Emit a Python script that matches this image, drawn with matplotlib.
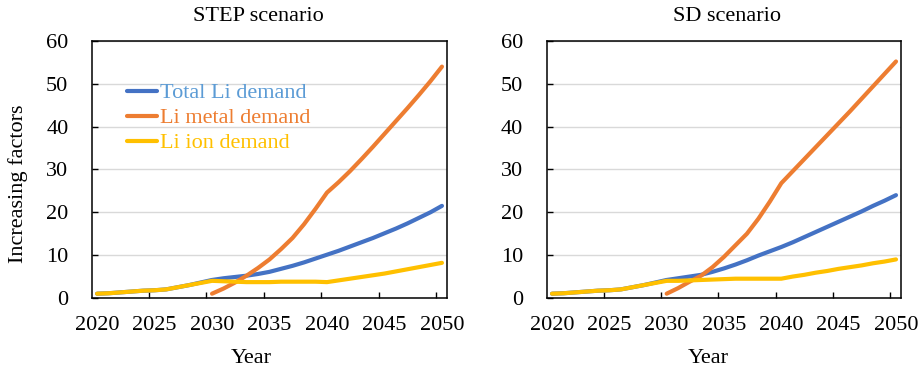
import numpy as np
import matplotlib
matplotlib.use('Agg')
import matplotlib.pyplot as plt
from matplotlib.ticker import MultipleLocator

plt.rcParams['font.family'] = ['Liberation Serif', 'DejaVu Serif']

years = list(range(2020, 2051))
metal_years = list(range(2030, 2051))

# STEP scenario
step_total = [1.0, 1.1, 1.3, 1.5, 1.7, 1.8, 2.0, 2.5, 3.0, 3.6, 4.2,
              4.6, 4.9, 5.2, 5.6, 6.1, 6.8, 7.5, 8.3, 9.2, 10.1,
              11.0, 12.0, 13.0, 14.0, 15.1, 16.2, 17.4, 18.7, 20.0, 21.5]
step_metal = [1.0, 2.2, 3.6, 5.2, 7.0, 9.0, 11.4, 14.0, 17.2, 20.8, 24.6,
              27.0, 29.6, 32.4, 35.3, 38.3, 41.3, 44.3, 47.4, 50.6, 54.0]
step_ion = [1.0, 1.1, 1.3, 1.5, 1.7, 1.8, 2.0, 2.5, 3.0, 3.5, 4.0,
            3.9, 3.8, 3.7, 3.7, 3.7, 3.8, 3.8, 3.8, 3.8, 3.7,
            4.1, 4.5, 4.9, 5.3, 5.7, 6.2, 6.7, 7.2, 7.7, 8.2]

# SD scenario
sd_total = [1.0, 1.1, 1.3, 1.5, 1.7, 1.8, 2.0, 2.5, 3.0, 3.6, 4.2,
            4.6, 5.0, 5.4, 6.1, 6.9, 7.8, 8.8, 9.9, 10.9, 11.9,
            13.0, 14.2, 15.4, 16.6, 17.8, 19.0, 20.2, 21.5, 22.7, 24.0]
sd_metal = [1.0, 2.3, 3.8, 5.2, 7.2, 9.6, 12.3, 15.0, 18.5, 22.5, 26.8,
            29.6, 32.4, 35.2, 38.0, 40.8, 43.6, 46.5, 49.4, 52.3, 55.2]
sd_ion = [1.0, 1.1, 1.3, 1.5, 1.7, 1.8, 2.0, 2.5, 3.0, 3.5, 4.0,
          4.0, 4.1, 4.2, 4.3, 4.4, 4.5, 4.5, 4.5, 4.5, 4.5,
          5.0, 5.4, 5.9, 6.3, 6.8, 7.2, 7.6, 8.1, 8.5, 9.0]

labels = ['Total Li demand', 'Li metal demand', 'Li ion demand']
line_colors = ['#4472C4', '#ED7D31', '#FFC000']
text_colors = ['#5B9BD5', '#ED7D31', '#FFC000']

fig = plt.figure(figsize=(9.23, 3.72), dpi=100)
ax1 = fig.add_axes([0.0997, 0.199, 0.3846, 0.691])
ax2 = fig.add_axes([0.5926, 0.199, 0.3836, 0.691])

panels = [(ax1, 'STEP scenario', step_total, step_metal, step_ion, 0.468, 0.448),
          (ax2, 'SD scenario', sd_total, sd_metal, sd_ion, 0.508, 0.455)]

for ax, title, total, metal, ion, tx, lx in panels:
    ax.plot(years, total, color=line_colors[0], lw=3.0, label=labels[0], solid_capstyle='round')
    ax.plot(metal_years, metal, color=line_colors[1], lw=3.0, label=labels[1], solid_capstyle='round')
    ax.plot(years, ion, color=line_colors[2], lw=3.0, label=labels[2], solid_capstyle='round')
    ax.set_xlim(2019.56, 2050.44)
    ax.set_ylim(0, 60)
    ax.set_xticks(range(2020, 2051, 5))
    ax.xaxis.set_minor_locator(MultipleLocator(5, offset=4.5))
    ax.yaxis.set_major_locator(MultipleLocator(10))
    ax.tick_params(axis='x', which='major', length=0, labelsize=16, pad=13)
    ax.tick_params(axis='x', which='minor', direction='in', length=4.5, width=1)
    ax.tick_params(axis='y', direction='in', length=4.5, width=1, labelsize=16, pad=17)
    ax.grid(axis='y', color='#D9D9D9', lw=1)
    ax.set_axisbelow(True)
    for sp in ax.spines.values():
        sp.set_linewidth(1.1)
        sp.set_color('black')
    ax.set_title(title, fontsize=16, pad=14, x=tx)
    ax.set_xlabel('Year', fontsize=16)
    ax.xaxis.set_label_coords(lx, -0.2)

ax1.set_ylabel('Increasing factors', fontsize=16)
ax1.yaxis.set_label_coords(-0.18, 0.444)
leg = ax1.legend(loc='upper left', bbox_to_anchor=(0.098, 0.837), frameon=False,
                 fontsize=16, handlelength=1.35, handletextpad=0.14,
                 labelspacing=0.2, borderpad=0, borderaxespad=0,
                 labelcolor=text_colors)

fig.savefig('out.png', dpi=100)
